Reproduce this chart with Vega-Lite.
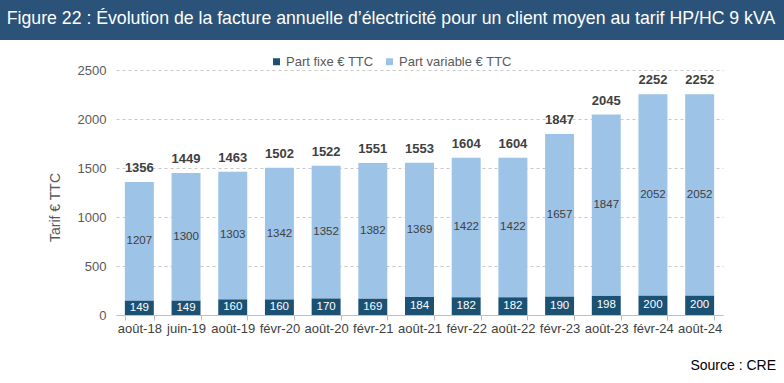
{
  "$schema": "https://vega.github.io/schema/vega-lite/v6.json",
  "padding": 0,
  "background": "white",
  "spacing": 24,
  "config": {
    "font": "Liberation Sans",
    "view": {"stroke": null}
  },
  "datasets": {
    "factures": [
      {"date": "août-18", "part": "Part fixe € TTC", "ordre": 1, "value": 149},
      {"date": "août-18", "part": "Part variable € TTC", "ordre": 2, "value": 1207},
      {"date": "juin-19", "part": "Part fixe € TTC", "ordre": 1, "value": 149},
      {"date": "juin-19", "part": "Part variable € TTC", "ordre": 2, "value": 1300},
      {"date": "août-19", "part": "Part fixe € TTC", "ordre": 1, "value": 160},
      {"date": "août-19", "part": "Part variable € TTC", "ordre": 2, "value": 1303},
      {"date": "févr-20", "part": "Part fixe € TTC", "ordre": 1, "value": 160},
      {"date": "févr-20", "part": "Part variable € TTC", "ordre": 2, "value": 1342},
      {"date": "août-20", "part": "Part fixe € TTC", "ordre": 1, "value": 170},
      {"date": "août-20", "part": "Part variable € TTC", "ordre": 2, "value": 1352},
      {"date": "févr-21", "part": "Part fixe € TTC", "ordre": 1, "value": 169},
      {"date": "févr-21", "part": "Part variable € TTC", "ordre": 2, "value": 1382},
      {"date": "août-21", "part": "Part fixe € TTC", "ordre": 1, "value": 184},
      {"date": "août-21", "part": "Part variable € TTC", "ordre": 2, "value": 1369},
      {"date": "févr-22", "part": "Part fixe € TTC", "ordre": 1, "value": 182},
      {"date": "févr-22", "part": "Part variable € TTC", "ordre": 2, "value": 1422},
      {"date": "août-22", "part": "Part fixe € TTC", "ordre": 1, "value": 182},
      {"date": "août-22", "part": "Part variable € TTC", "ordre": 2, "value": 1422},
      {"date": "févr-23", "part": "Part fixe € TTC", "ordre": 1, "value": 190},
      {"date": "févr-23", "part": "Part variable € TTC", "ordre": 2, "value": 1657},
      {"date": "août-23", "part": "Part fixe € TTC", "ordre": 1, "value": 198},
      {"date": "août-23", "part": "Part variable € TTC", "ordre": 2, "value": 1847},
      {"date": "févr-24", "part": "Part fixe € TTC", "ordre": 1, "value": 200},
      {"date": "févr-24", "part": "Part variable € TTC", "ordre": 2, "value": 2052},
      {"date": "août-24", "part": "Part fixe € TTC", "ordre": 1, "value": 200},
      {"date": "août-24", "part": "Part variable € TTC", "ordre": 2, "value": 2052}
    ]
  },
  "vconcat": [
    {
      "width": 784,
      "height": 40,
      "view": {"fill": "#2b5379", "stroke": null},
      "data": {"values": [{"titre": "Figure 22 : Évolution de la facture annuelle d’électricité pour un client moyen au tarif HP/HC 9 kVA"}]},
      "mark": {"type": "text", "align": "center", "baseline": "middle", "fontSize": 17.7, "color": "white", "dx": -1, "dy": -1},
      "encoding": {"text": {"field": "titre", "type": "nominal"}}
    },
    {
      "spacing": 8,
      "hconcat": [
        {
          "width": 40,
          "height": 245,
          "data": {"values": [{}]},
          "mark": {"type": "text", "opacity": 0},
          "encoding": {}
        },
        {
          "width": 607,
          "height": 245,
          "data": {"name": "factures"},
          "transform": [
            {"stack": "value", "groupby": ["date"], "sort": [{"field": "ordre", "order": "ascending"}], "as": ["v0", "v1"]},
            {"calculate": "(datum.v0 + datum.v1) / 2", "as": "mid"}
          ],
          "encoding": {
            "x": {
              "field": "date",
              "type": "nominal",
              "sort": null,
              "scale": {"paddingInner": 0.38, "paddingOuter": 0.19},
              "axis": {
                "title": null,
                "labelAngle": 0,
                "labelFontSize": 13,
                "labelColor": "#404040",
                "labelPadding": 2,
                "domainColor": "#bfbfbf",
                "tickColor": "#bfbfbf",
                "tickSize": 5,
                "tickBand": "extent",
                "grid": false
              }
            }
          },
          "layer": [
            {
              "mark": {"type": "bar"},
              "encoding": {
                "y": {
                  "field": "v0",
                  "type": "quantitative",
                  "scale": {"domain": [0, 2500], "nice": false},
                  "axis": {
                    "values": [0, 500, 1000, 1500, 2000, 2500],
                    "format": "d",
                    "grid": true,
                    "gridDash": [3, 3],
                    "gridColor": "#c8c8c8",
                    "domain": false,
                    "ticks": false,
                    "labelFontSize": 13,
                    "labelColor": "#595959",
                    "labelPadding": 10,
                    "title": "Tarif € TTC",
                    "titleFontSize": 14,
                    "titleFontWeight": "normal",
                    "titleColor": "#595959",
                    "titlePadding": 15,
                    "titleY": 137
                  }
                },
                "y2": {"field": "v1"},
                "color": {
                  "field": "part",
                  "type": "nominal",
                  "scale": {
                    "domain": ["Part fixe € TTC", "Part variable € TTC"],
                    "range": ["#1b5274", "#9dc3e6"]
                  },
                  "legend": {
                    "orient": "none",
                    "legendX": 270,
                    "legendY": 55,
                    "padding": 0,
                    "direction": "horizontal",
                    "title": null,
                    "symbolType": "square",
                    "symbolSize": 49,
                    "symbolStrokeWidth": 0,
                    "labelFontSize": 13,
                    "labelColor": "#595959",
                    "labelOffset": 3,
                    "columnPadding": 9
                  }
                }
              }
            },
            {
              "mark": {"type": "text", "fontSize": 11.5, "baseline": "middle"},
              "encoding": {
                "y": {"field": "mid", "type": "quantitative"},
                "text": {"field": "value", "type": "quantitative", "format": "d"},
                "color": {
                  "condition": {"test": "datum.ordre === 1", "value": "white"},
                  "value": "#404040"
                }
              }
            },
            {
              "transform": [{"filter": "datum.ordre === 2"}],
              "mark": {"type": "text", "fontSize": 13, "fontWeight": "bold", "baseline": "alphabetic", "dy": -10, "color": "#404040"},
              "encoding": {
                "y": {"field": "v1", "type": "quantitative"},
                "text": {"field": "v1", "type": "quantitative", "format": "d"}
              }
            }
          ]
        }
      ]
    },
    {
      "width": 784,
      "height": 6,
      "data": {"values": [{}]},
      "mark": {"type": "text", "opacity": 0},
      "encoding": {},
      "title": {
        "text": "Source : CRE",
        "orient": "top",
        "anchor": "end",
        "frame": "group",
        "offset": 0,
        "dx": -8,
        "fontSize": 14,
        "fontWeight": "normal",
        "color": "#000000"
      }
    }
  ]
}
